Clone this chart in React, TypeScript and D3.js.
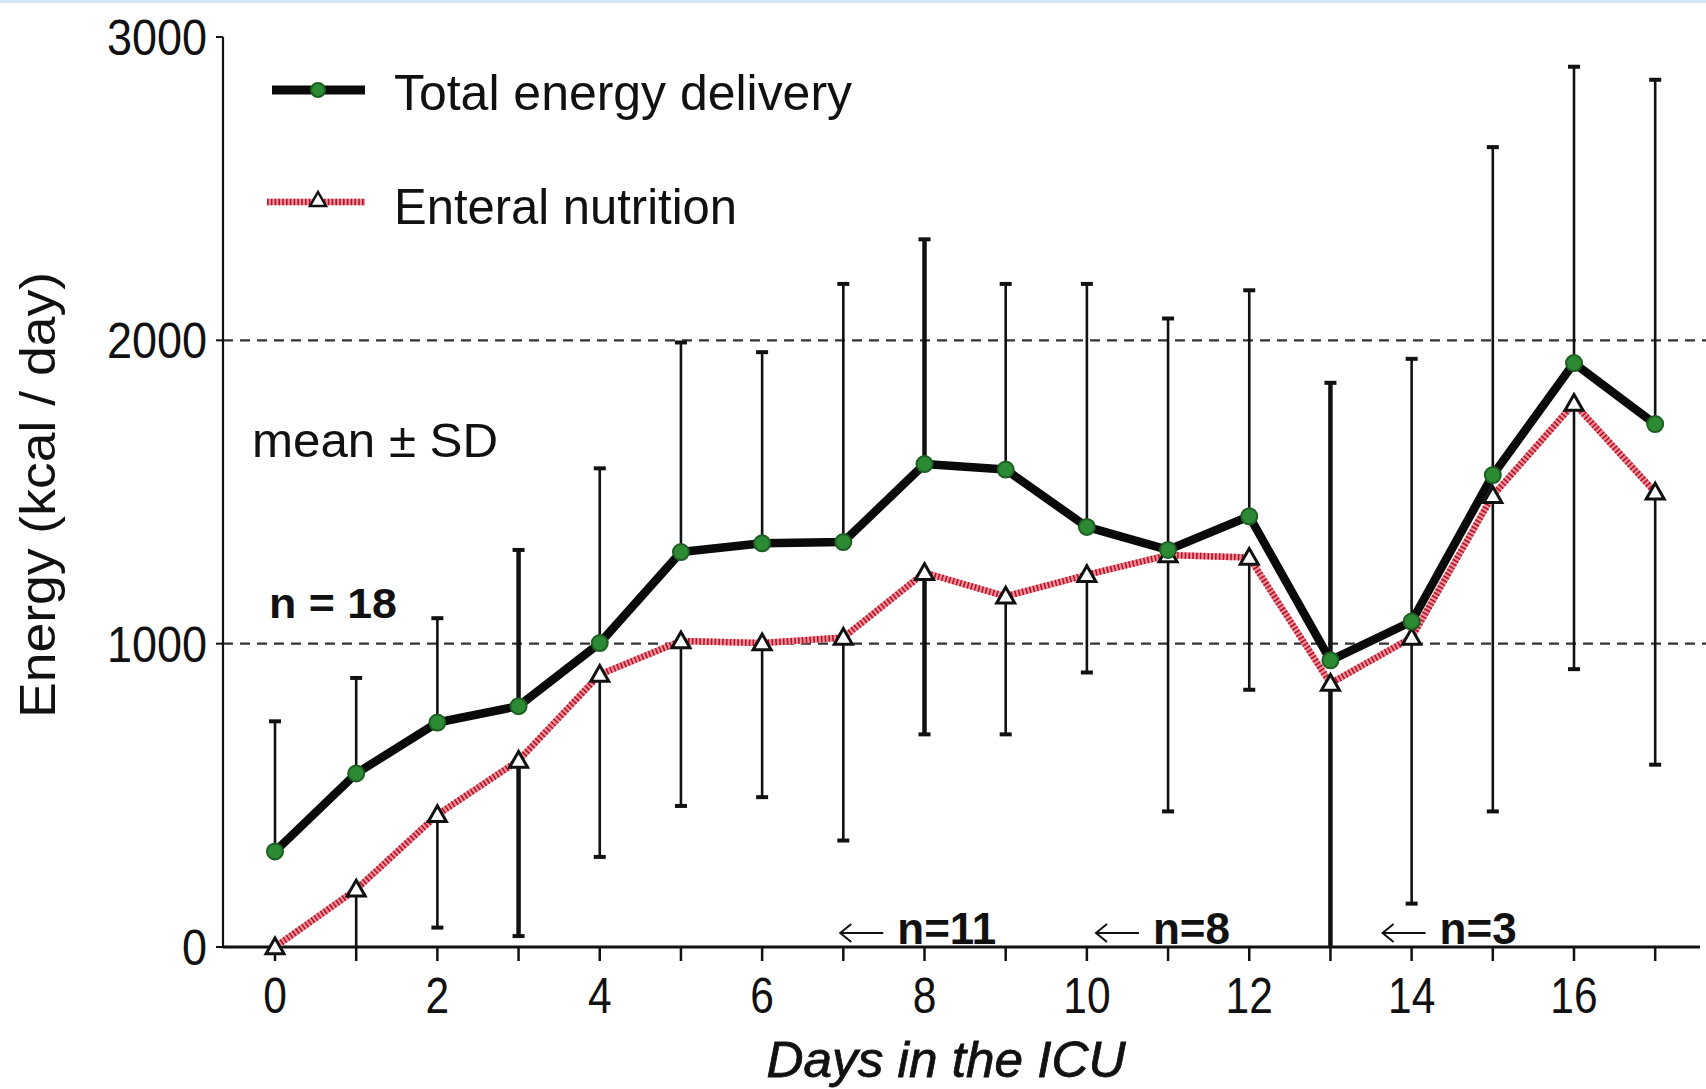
import React from "react";
import * as d3 from "d3";

const days = [0, 1, 2, 3, 4, 5, 6, 7, 8, 9, 10, 11, 12, 13, 14, 15, 16, 17];
const totalMean = [315, 572, 740, 794, 1002, 1302, 1331, 1335, 1592, 1574, 1385, 1309, 1420, 945, 1073, 1556, 1925, 1724];
const totalUpper = [744, 887, 1084, 1309, 1578, 1993, 1961, 2186, 2333, 2186, 2186, 2072, 2165, 1860, 1939, 2637, 2902, 2859];
const enteralMean = [0, 190, 436, 615, 898, 1009, 1002, 1020, 1234, 1156, 1227, 1292, 1284, 869, 1020, 1488, 1792, 1499];
const enteralLower: (number | null)[] = [null, 0, 64, 36, 297, 465, 494, 351, 701, 701, 905, 447, 848, 0, 143, 447, 916, 601];
const yTicks = [0, 1000, 2000, 3000];
const xTickLabels = [0, 2, 4, 6, 8, 10, 12, 14, 16];
const refLines = [1000, 2000];
const nNotes = [
  { day: 6.95, label: "n=11" },
  { day: 10.1, label: "n=8" },
  { day: 13.63, label: "n=3" },
];
const thickBarDays = [3, 8, 13];

const W = 1706;
const H = 1089;
const axisX = 223;
const axisY = 947;

const x = d3.scaleLinear().domain([0, 16]).range([275, 1574]);
const y = d3.scaleLinear().domain([0, 3000]).range([947, 37]);

const font = "'Liberation Sans', Arial, sans-serif";

function CText({ x: tx, y: ty, sx = 0.88, size = 50, anchor = "start", weight = "normal", style = "normal", children }: any) {
  return (
    <text
      transform={`translate(${tx},${ty}) scale(${sx},1)`}
      fontFamily={font}
      fontSize={size}
      textAnchor={anchor}
      fontWeight={weight}
      fontStyle={style}
      fill="#111"
    >
      {children}
    </text>
  );
}

function EnteralStroke({ d }: { d: string }) {
  return (
    <g>
      <path d={d} fill="none" stroke="#ee8f98" strokeWidth={6.5} />
      <path d={d} fill="none" stroke="#b3122a" strokeWidth={6.5} strokeDasharray="1.6,2.2" />
    </g>
  );
}

export default function App() {
  const line = d3
    .line<number>()
    .x((_, i) => x(days[i]))
    .y((d) => y(d));
  const tri = (cx: number, cy: number, s = 9) =>
    `M${cx},${cy - s} L${cx + s},${cy + s * 0.75} L${cx - s},${cy + s * 0.75} Z`;

  return (
    <svg width={W} height={H} style={{ position: "fixed", left: 0, top: 0, background: "#fff" }}>
      <rect x={0} y={0} width={W} height={H} fill="#fff" />
      <rect x={0} y={0} width={W} height={3} fill="#cfe9f8" />

      {refLines.map((v) => (
        <line key={v} x1={axisX} x2={W} y1={y(v)} y2={y(v)} stroke="#333" strokeWidth={2.2} strokeDasharray="10,7" />
      ))}

      <line x1={axisX} x2={axisX} y1={y(3000)} y2={axisY} stroke="#111" strokeWidth={2.2} />
      <line x1={axisX} x2={1700} y1={axisY} y2={axisY} stroke="#111" strokeWidth={3} />
      {yTicks.map((t) => (
        <g key={t}>
          <line x1={axisX - 7} x2={axisX} y1={y(t)} y2={y(t)} stroke="#111" strokeWidth={2} />
          <CText x={207} y={y(t) + 18} anchor="end" sx={0.9}>
            {t}
          </CText>
        </g>
      ))}
      {days.map((d) => (
        <line key={d} x1={x(d)} x2={x(d)} y1={axisY} y2={axisY + 14} stroke="#111" strokeWidth={2.5} />
      ))}
      {xTickLabels.map((d) => (
        <CText key={d} x={x(d)} y={1013} anchor="middle" sx={0.85}>
          {d}
        </CText>
      ))}

      {days.map((d, i) => {
        const sw = thickBarDays.includes(d) ? 4.5 : 2.6;
        const cx = x(d);
        const lo = enteralLower[i];
        return (
          <g key={d}>
            <line x1={cx} x2={cx} y1={y(totalUpper[i])} y2={y(totalMean[i])} stroke="#111" strokeWidth={sw} />
            <line x1={cx - 6} x2={cx + 6} y1={y(totalUpper[i])} y2={y(totalUpper[i])} stroke="#111" strokeWidth={4} />
            {lo !== null && (
              <g>
                <line x1={cx} x2={cx} y1={y(enteralMean[i])} y2={y(lo)} stroke="#111" strokeWidth={sw} />
                {lo > 0 && <line x1={cx - 6} x2={cx + 6} y1={y(lo)} y2={y(lo)} stroke="#111" strokeWidth={4} />}
              </g>
            )}
          </g>
        );
      })}

      <EnteralStroke d={line(enteralMean) || ""} />
      <path d={line(totalMean) || ""} fill="none" stroke="#0a0a0a" strokeWidth={8.5} strokeLinejoin="round" />

      {days.map((d, i) => (
        <path key={"t" + d} d={tri(x(d), y(enteralMean[i]))} fill="#fff" stroke="#111" strokeWidth={3} />
      ))}
      {days.map((d, i) => (
        <circle key={"c" + d} cx={x(d)} cy={y(totalMean[i])} r={8} fill="#2c8a34" stroke="#1d5e22" strokeWidth={2} />
      ))}

      {/* legend */}
      <line x1={272} x2={365} y1={90} y2={90} stroke="#0a0a0a" strokeWidth={9} />
      <circle cx={318} cy={90} r={7} fill="#2c8a34" stroke="#1d5e22" strokeWidth={2} />
      <EnteralStroke d="M267,202 L365,202" />
      <path d={tri(318, 200, 8)} fill="#fff" stroke="#111" strokeWidth={2.5} />
      <text x={394} y={110} fontFamily={font} fontSize={50} textLength={458} lengthAdjust="spacingAndGlyphs" fill="#111">
        Total energy delivery
      </text>
      <text x={394} y={224} fontFamily={font} fontSize={50} textLength={343} lengthAdjust="spacingAndGlyphs" fill="#111">
        Enteral nutrition
      </text>

      <text x={252} y={457} fontFamily={font} fontSize={48} textLength={246} lengthAdjust="spacingAndGlyphs" fill="#111">
        mean ± SD
      </text>
      <text x={269} y={618} fontFamily={font} fontSize={42} fontWeight="bold" textLength={128} lengthAdjust="spacingAndGlyphs" fill="#111">
        n = 18
      </text>
      {nNotes.map((n) => {
        const x0 = x(n.day);
        const yc = 933;
        return (
          <g key={n.label}>
            <path d={`M${x0 + 44},${yc} L${x0 + 1},${yc}`} stroke="#111" strokeWidth={2} fill="none" />
            <path d={`M${x0 + 12},${yc - 9} L${x0 + 1},${yc} L${x0 + 12},${yc + 9}`} stroke="#111" strokeWidth={2} fill="none" />
            <text x={x0 + 58} y={944} fontFamily={font} fontSize={44} fontWeight="bold" fill="#111">
              {n.label}
            </text>
          </g>
        );
      })}

      <text
        transform={`translate(55,495) rotate(-90)`}
        fontFamily={font}
        fontSize={50}
        textAnchor="middle"
        textLength={446}
        lengthAdjust="spacingAndGlyphs"
        fill="#111"
      >
        Energy (kcal / day)
      </text>
      <text
        x={946}
        y={1077}
        fontFamily={font}
        fontSize={50}
        fontStyle="italic"
        textAnchor="middle"
        textLength={359}
        lengthAdjust="spacingAndGlyphs"
        fill="#111"
        stroke="#111"
        strokeWidth={0.8}
      >
        Days in the ICU
      </text>
    </svg>
  );
}
